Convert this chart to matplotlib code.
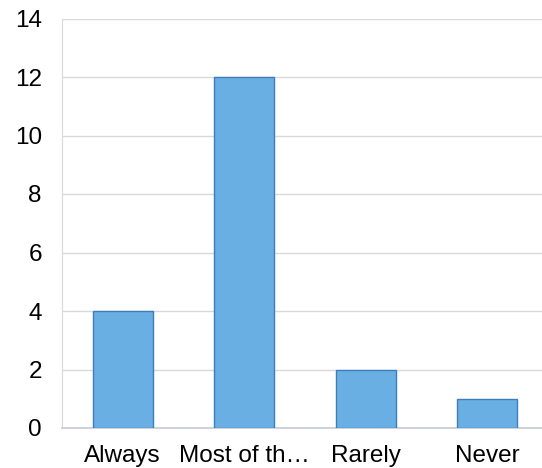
import matplotlib.pyplot as plt

categories = ["Always", "Most of th\u2026", "Rarely", "Never"]
values = [4, 12, 2, 1]
y_ticks = [0, 2, 4, 6, 8, 10, 12, 14]

plt.rcParams['font.family'] = ['Liberation Sans', 'DejaVu Sans']

fig = plt.figure(figsize=(5.42, 4.68), dpi=100)
W, H = 542, 468
left, right, top, bottom = 62, 548, 18.5, 428
ax = fig.add_axes([left / W, 1 - bottom / H, (right - left) / W, (bottom - top) / H])

ax.bar(range(len(categories)), values, width=0.49, color='#69AFE4',
       edgecolor='#3C7DBA', linewidth=1.0, zorder=3)

ax.set_xlim(-0.5, 3.5)
ax.set_ylim(0, 14)
ax.set_yticks(y_ticks)
ax.set_xticks(range(len(categories)))
ax.set_xticklabels(categories)
ax.yaxis.grid(True, color='#D9D9D9', linewidth=1.0, zorder=0)
ax.tick_params(length=0, labelsize=17.5, colors='black')
ax.tick_params(axis='y', pad=14.5)
ax.tick_params(axis='x', pad=12)

for s in ['top', 'right']:
    ax.spines[s].set_visible(False)
ax.spines['left'].set_color('#D9D9D9')
ax.spines['bottom'].set_color('#C3CBD9')
ax.spines['bottom'].set_linewidth(1.2)

fig.savefig('out.png', dpi=100)
